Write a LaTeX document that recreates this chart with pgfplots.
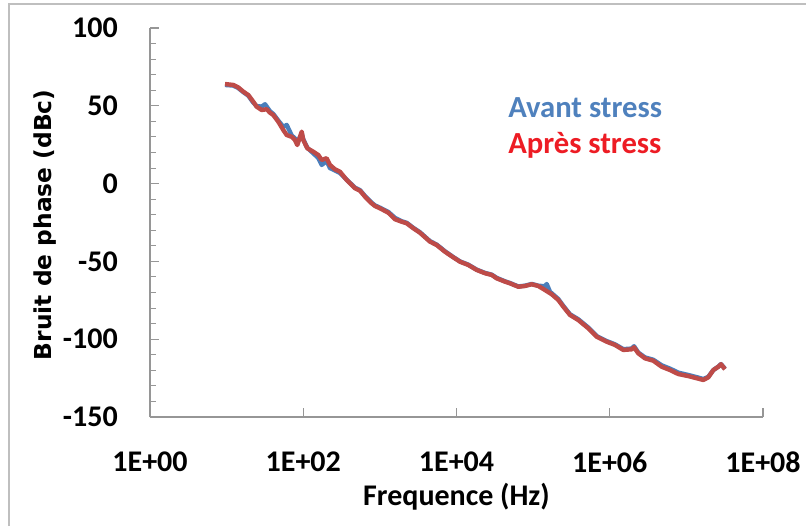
\documentclass[border=0pt]{standalone}
\usepackage{pgfplots}
\pgfplotsset{compat=1.18}
\usepackage{fontspec}
\setmainfont{Carlito}
\newfontfamily\dejavu{DejaVu Sans}

\definecolor{avant}{RGB}{74,126,187}
\definecolor{apres}{RGB}{190,75,72}
\definecolor{avanttxt}{RGB}{79,129,189}
\definecolor{aprestxt}{RGB}{237,28,36}
\definecolor{axisgray}{RGB}{150,150,150}

% phase noise, before stress (blue)
\pgfplotstableread{
f        L
9.53     63.4
12.2     63.0
14.1     61.5
16.5     58.8
19.2     56.5
22.3     52.0
24.7     49.8
28.7     49.5
31.7     51.0
36.8     46.5
40.6     44.8
47.2     40.5
55.0     36.5
60.8     37.7
70.6     31.0
78.0     29.0
83.6     26.5
95.5     32.0
100      28.5
113      23.0
135      19.5
157      16.5
174      12.0
202      14.5
223      10.0
259      8.5
302      6.8
369      2.5
473      -2.6
551      -4.2
640      -8.0
782      -12.3
863      -14.0
1005     -15.5
1288     -18.2
1574     -22.0
1928     -24.2
2239     -25.2
2729     -28.4
3342     -31.3
4508     -37.0
5521     -39.2
7079     -43.5
9078     -47.2
11120    -50.0
14260    -52.1
18370    -55.3
23550    -57.4
28770    -58.5
33500    -60.6
42950    -62.8
49890    -63.9
64120    -66.1
78340    -65.6
95720    -64.5
117000   -65.6
142900   -66.0
150300   -64.5
166000   -69.5
213300   -74.2
247700   -78.6
302700   -84.0
389000   -87.2
524800   -92.5
676100   -98.0
912000   -101.2
1.172e6  -103.3
1.503e6  -106.4
1.936e6  -106.0
2.075e6  -104.5
2.360e6  -108.6
2.884e6  -111.7
3.698e6  -113.2
4.764e6  -116.8
6.109e6  -118.9
7.852e6  -121.5
1.059e7  -123.0
1.365e7  -124.4
1.663e7  -125.6
1.932e7  -124.2
2.249e7  -119.8
2.612e7  -117.6
2.831e7  -116.0
3.192e7  -119.0
}\avant

% phase noise, after stress (red)
\pgfplotstableread{
f        L
9.53     64.0
12.2     63.4
14.1     61.9
16.5     59.1
19.2     56.9
22.3     52.6
24.7     49.4
28.7     47.3
33.3     47.8
36.8     45.6
40.6     44.1
47.2     39.8
55.0     34.4
60.8     31.2
70.6     30.1
78.0     28.0
83.6     24.8
95.5     33.4
100      28.0
113      22.7
135      20.5
157      18.4
174      15.2
202      16.3
223      12.0
259      9.2
302      7.6
369      2.3
473      -3.0
551      -4.6
640      -8.4
782      -12.7
863      -14.4
1005     -15.9
1288     -18.7
1574     -22.9
1928     -24.5
2239     -25.5
2729     -28.7
3342     -31.6
4508     -37.3
5521     -39.5
7079     -43.8
9078     -47.4
11120    -50.2
14260    -52.3
18370    -55.5
23550    -57.6
28770    -58.7
33500    -60.9
42950    -63.0
49890    -64.1
64120    -66.3
78340    -65.8
95720    -64.7
117000   -65.8
142900   -68.4
174600   -71.1
213300   -74.8
247700   -79.1
302700   -84.4
389000   -87.7
524800   -93.0
676100   -98.4
912000   -101.6
1.172e6  -103.7
1.503e6  -106.9
1.936e6  -106.5
2.075e6  -105.2
2.360e6  -109.1
2.884e6  -112.3
3.698e6  -113.8
4.764e6  -117.7
6.109e6  -119.8
7.852e6  -122.4
1.059e7  -123.7
1.365e7  -125.1
1.663e7  -126.2
1.932e7  -124.5
2.249e7  -119.8
2.612e7  -117.7
2.831e7  -116.1
3.192e7  -119.3
}\apres

\begin{document}
\begin{tikzpicture}[x=1pt,y=1pt]
\useasboundingbox (0,0) rectangle (604.5,394.5);
\draw[black!25, line width=0.8pt] (6.75,0) -- (6.75,391.5) -- (604.5,391.5);
\begin{axis}[
  at={(112.5pt,81.75pt)}, anchor=south west,
  scale only axis,
  width=459.75pt, height=291.75pt,
  xmode=log,
  xmin=1, xmax=1e8,
  ymin=-150, ymax=100,
  axis lines=left,
  axis line style={-, axisgray, line width=0.9pt},
  tick align=inside,
  major tick length=6.5pt,
  minor tick length=4.5pt,
  tick style={axisgray, line width=0.8pt},
  xtick={1,100,1e4,1e6,1e8},
  xticklabels={1E+00,1E+02,1E+04,1E+06,1E+08},
  minor xtick={},
  ytick={-150,-100,-50,0,50,100},
  yticklabels={-150,-100,-50,0,50,100},
  minor y tick num=4,
  xticklabel style={font=\fontsize{22.5}{26}\selectfont\bfseries, anchor=north, inner sep=0pt, yshift=-26pt},
  yticklabel style={font=\fontsize{22.5}{26}\selectfont\bfseries, anchor=east, inner sep=0pt, xshift=-24pt},
  xlabel={Frequence (Hz)},
  ylabel={Bruit de phase (dBc)},
  xlabel style={font=\fontsize{22.5}{26}\selectfont\bfseries, at={(axis description cs:0.5,-0.206)}, anchor=center},
  ylabel style={font=\dejavu\fontsize{17.5}{20}\selectfont\bfseries, at={(axis description cs:-0.171,0.494)}, anchor=center, rotate=0},
  legend style={at={(axis description cs:0.584,0.822)}, anchor=north west, draw=none, fill=none,
    font=\fontsize{23}{26}\selectfont\bfseries, inner sep=0pt, row sep=10pt,
    nodes={inner sep=0pt}},
  legend cell align=left,
  legend image code/.code={},
]
\addplot[avant, line width=3.3pt, line join=round] table[x=f, y=L] {\avant};
\addlegendentry{\textcolor{avanttxt}{Avant stress}}
\addplot[apres, line width=3.3pt, line join=round] table[x=f, y=L] {\apres};
\addlegendentry{\textcolor{aprestxt}{Après stress}}
\end{axis}
\end{tikzpicture}
\end{document}
